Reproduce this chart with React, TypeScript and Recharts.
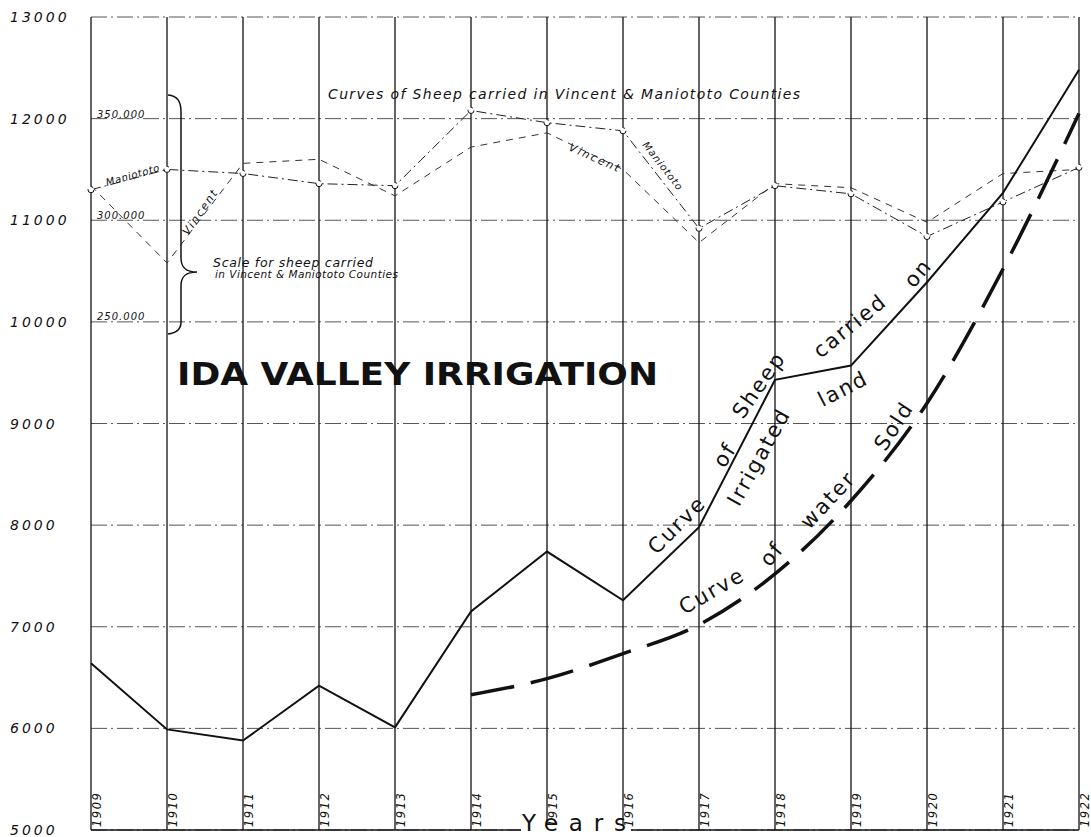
import React from 'react';
import { LineChart, Line, XAxis, YAxis, CartesianGrid } from 'recharts';

// Years along the bottom
const years = [1909, 1910, 1911, 1912, 1913, 1914, 1915, 1916, 1917, 1918, 1919, 1920, 1921, 1922];

// Curve of sheep carried on irrigated land (left scale)
const irrigatedSheep = [6640, 5990, 5880, 6420, 6010, 7150, 7740, 7260, 7980, 9430, 9570, 10390, 11270, 12480];

// Curve of water sold (starts 1914)
const waterSold = [null, null, null, null, null, 6330, 6490, 6735, 7020, 7520, 8240, 9200, 10520, 12050];

// Sheep carried in Vincent & Maniototo counties (scale 250.000 - 350.000)
const maniototo = [315000, 325000, 323000, 318000, 317000, 354000, 348000, 344000, 296000, 317000, 313000, 292000, 309000, 326000];
const vincent = [317000, 279000, 328000, 330000, 312000, 336000, 343000, 325000, 289000, 318000, 316000, 299000, 323000, 325000];

const yTicks = [5000, 6000, 7000, 8000, 9000, 10000, 11000, 12000, 13000];
const sheepScaleLabels = ['350.000', '300.000', '250.000'];

const data = years.map((year, i) => ({
  year,
  irrigated: irrigatedSheep[i],
  water: waterSold[i],
  maniototo: maniototo[i],
  vincent: vincent[i],
}));

const hand = '"DejaVu Sans", sans-serif';

// hand lettered words along the two big curves: [text, x, y, angle]
const curveWords: [string, number, number, number][] = [
  ['Curve', 677, 525, -45],
  ['of', 725, 455, -57],
  ['Sheep', 759, 385, -55],
  ['carried', 850, 326, -39],
  ['on', 918, 273, -50],
  ['Irrigated', 759, 457, -61],
  ['land', 843, 389, -27],
  ['Curve', 712, 591, -30],
  ['of', 772, 554, -50],
  ['water', 828, 500, -47],
  ['Sold', 894, 426, -57],
];

const YTick = ({ y, payload }: any) => (
  <text x={10} y={y + 5} fontFamily={hand} fontStyle="italic" fontSize={14} letterSpacing={3} fill="#111">
    {payload.value}
  </text>
);

const XTick = ({ x, y, payload }: any) => (
  <text
    transform={`translate(${x + 10},${y - 5}) rotate(-90)`}
    fontFamily={hand}
    fontStyle="italic"
    fontSize={11.5}
    letterSpacing={1.5}
    fill="#111"
  >
    {payload.value}
  </text>
);

const Overlay = () => (
  <svg width={1091} height={837} style={{ position: 'absolute', left: 0, top: 0, pointerEvents: 'none' }}>
    <text x={177} y={385} fontFamily={hand} fontWeight={700} fontSize={32} textLength={481} lengthAdjust="spacingAndGlyphs" fill="#111">
      IDA VALLEY IRRIGATION
    </text>
    <text x={328} y={99} fontFamily={hand} fontStyle="italic" fontSize={14} textLength={472} fill="#111">
      Curves of Sheep carried in Vincent &amp; Maniototo Counties
    </text>
    {sheepScaleLabels.map((s, i) => (
      <text key={s} x={97} y={118 + i * 101} fontFamily={hand} fontStyle="italic" fontSize={10} letterSpacing={1} fill="#111">
        {s}
      </text>
    ))}
    <path
      d="M168,95 C178,96 181,102 181,112 L181,258 C181,268 186,272 197,272 C186,272 181,276 181,286 L181,322 C181,330 176,333 168,334"
      fill="none"
      stroke="#111"
      strokeWidth={1.5}
    />
    <text x={213} y={267} fontFamily={hand} fontStyle="italic" fontSize={12.5} textLength={160} fill="#111">
      Scale for sheep carried
    </text>
    <text x={215} y={278} fontFamily={hand} fontStyle="italic" fontSize={10.5} textLength={183} fill="#111">
      in Vincent &amp; Maniototo Counties
    </text>
    <text transform="translate(107,186) rotate(-16)" fontFamily={hand} fontStyle="italic" fontSize={10} textLength={55} fill="#111">
      Maniototo
    </text>
    <text transform="translate(188,236) rotate(-55)" fontFamily={hand} fontStyle="italic" fontSize={11} textLength={52} fill="#111">
      Vincent
    </text>
    <text transform="translate(568,150) rotate(24)" fontFamily={hand} fontStyle="italic" fontSize={11} textLength={54} fill="#111">
      Vincent
    </text>
    <text transform="translate(642,145) rotate(52)" fontFamily={hand} fontStyle="italic" fontSize={10} textLength={58} fill="#111">
      Maniototo
    </text>
    {curveWords.map(([w, x, y, a], i) => (
      <text
        key={i}
        transform={`translate(${x},${y}) rotate(${a})`}
        textAnchor="middle"
        dominantBaseline="central"
        fontFamily={hand}
        fontSize={21}
        letterSpacing={2}
        fill="#111"
      >
        {w}
      </text>
    ))}
    <rect x={521} y={825} width={110} height={9} fill="#fff" />
    <text x={522} y={831} fontFamily={hand} fontSize={23} textLength={104} fill="#111">
      Years
    </text>
  </svg>
);

export default function App() {
  return (
    <div style={{ position: 'absolute', left: 0, top: 0, width: 1091, height: 837, background: '#fff' }}>
      <LineChart width={1091} height={837} data={data} margin={{ top: 17, right: 12, bottom: 0, left: 0 }}>
        <CartesianGrid vertical={false} stroke="#555" strokeWidth={1} strokeDasharray="16 4 2 4" />
        <CartesianGrid horizontal={false} stroke="#111" strokeWidth={1.3} />
        <XAxis
          dataKey="year"
          type="number"
          domain={[1909, 1922]}
          ticks={years}
          height={7}
          tickLine={false}
          tickSize={0}
          axisLine={{ stroke: '#111', strokeWidth: 1.5 }}
          tick={<XTick />}
          interval={0}
        />
        <YAxis
          type="number"
          domain={[5000, 13000]}
          ticks={yTicks}
          width={91}
          tickLine={false}
          axisLine={false}
          tick={<YTick />}
          interval={0}
        />
        <YAxis yAxisId="sheep" orientation="right" hide domain={[0, 400000]} />
        <Line
          yAxisId="sheep"
          dataKey="vincent"
          type="linear"
          stroke="#333"
          strokeWidth={1}
          strokeDasharray="7 6"
          dot={false}
          isAnimationActive={false}
        />
        <Line
          yAxisId="sheep"
          dataKey="maniototo"
          type="linear"
          stroke="#222"
          strokeWidth={1}
          strokeDasharray="10 4 2 4"
          dot={{ r: 3, stroke: '#111', strokeWidth: 1, fill: '#fff' }}
          isAnimationActive={false}
        />
        <Line
          dataKey="irrigated"
          type="linear"
          stroke="#111"
          strokeWidth={2}
          dot={false}
          isAnimationActive={false}
        />
        <Line
          dataKey="water"
          type="monotone"
          stroke="#111"
          strokeWidth={3.5}
          strokeDasharray="44 17"
          dot={false}
          connectNulls={false}
          isAnimationActive={false}
        />
      </LineChart>
      <Overlay />
    </div>
  );
}
